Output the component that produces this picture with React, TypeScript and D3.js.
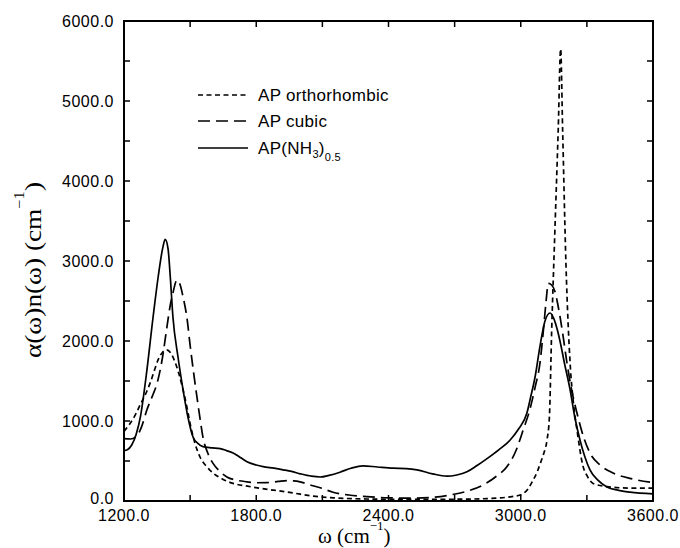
import React from 'react';
import * as d3 from 'd3';

// ---- axis ticks ----
const xMajorTicks = [1200, 1800, 2400, 3000, 3600];
const xMinorTicks = [1500, 2100, 2700, 3300];
const yMajorTicks = [0, 1000, 2000, 3000, 4000, 5000, 6000];
const yMinorTicks = [500, 1500, 2500, 3500, 4500, 5500];

// ---- series: AP orthorhombic (short dashes) ----
const wOrtho = [1200, 1250, 1273, 1300, 1318, 1340, 1354, 1375, 1394, 1412, 1431, 1450, 1468, 1485, 1499, 1520, 1545, 1575, 1604, 1650, 1695, 1760, 1817, 1880, 1940, 2000, 2060, 2150, 2300, 2500, 2700, 2850, 2906, 2960, 2997, 3030, 3056, 3074, 3090, 3105, 3119, 3130, 3140, 3155, 3170, 3181, 3190, 3205, 3224, 3240, 3255, 3283, 3300, 3328, 3390, 3450, 3520, 3600];
const aOrtho = [870, 1070, 1200, 1350, 1470, 1650, 1760, 1860, 1890, 1850, 1740, 1580, 1390, 1180, 980, 740, 550, 430, 350, 270, 220, 185, 160, 135, 112, 85, 60, 40, 25, 20, 22, 30, 38, 55, 75, 140, 260, 360, 480, 600, 760, 1050, 2100, 3390, 4640, 5650, 4640, 2970, 1720, 1200, 890, 430, 320, 220, 180, 165, 160, 160];

// ---- series: AP cubic (long dashes) ----
const wCubic = [1200, 1230, 1260, 1280, 1304, 1330, 1350, 1375, 1395, 1410, 1422, 1440, 1455, 1468, 1485, 1499, 1515, 1531, 1545, 1558, 1580, 1604, 1635, 1667, 1710, 1758, 1800, 1849, 1900, 1940, 1970, 1999, 2040, 2090, 2148, 2220, 2302, 2400, 2529, 2600, 2679, 2760, 2829, 2890, 2938, 2980, 3010, 3042, 3065, 3087, 3105, 3115, 3125, 3140, 3155, 3165, 3190, 3210, 3230, 3255, 3285, 3314, 3360, 3419, 3500, 3600];
const aCubic = [780, 775, 820, 930, 1140, 1320, 1470, 1800, 2180, 2450, 2600, 2760, 2700, 2550, 2300, 1970, 1620, 1300, 1030, 800, 600, 470, 370, 300, 260, 240, 228, 230, 245, 255, 252, 240, 205, 165, 110, 75, 55, 40, 35, 45, 75, 125, 200, 310, 430, 640, 880, 1150, 1420, 1720, 2200, 2500, 2720, 2700, 2620, 2500, 2100, 1720, 1400, 1100, 800, 600, 450, 350, 280, 230];

// ---- series: AP(NH3)0.5 (solid) ----
const wAmm = [1200, 1215, 1235, 1255, 1275, 1300, 1332, 1355, 1377, 1387, 1400, 1410, 1422, 1445, 1468, 1490, 1513, 1535, 1558, 1600, 1636, 1665, 1695, 1730, 1758, 1800, 1831, 1880, 1922, 1960, 2000, 2050, 2090, 2130, 2180, 2230, 2284, 2350, 2421, 2480, 2529, 2600, 2665, 2710, 2756, 2800, 2847, 2900, 2951, 2990, 3028, 3045, 3065, 3087, 3110, 3133, 3150, 3165, 3178, 3200, 3224, 3245, 3269, 3290, 3314, 3350, 3391, 3440, 3496, 3600];
const aAmm = [630, 640, 700, 830, 1060, 1550, 2300, 2800, 3180, 3270, 3150, 2800, 2300, 1800, 1390, 1050, 800, 720, 680, 665, 655, 630, 600, 540, 490, 450, 430, 410, 390, 370, 340, 310, 300, 320, 360, 410, 440, 425, 410, 405, 390, 340, 310, 325, 365, 440, 530, 640, 760, 900, 1100, 1300, 1550, 1930, 2250, 2350, 2280, 2150, 2000, 1700, 1390, 1050, 760, 560, 390, 260, 175, 135, 110, 90];

const seriesLabels = ['AP orthorhombic', 'AP cubic'];

const W = 680;
const H = 548;
const L = 124, R = 653, T = 21, B = 501;

export default function App() {
  const x = d3.scaleLinear().domain([1200, 3600]).range([L, R]);
  const y = d3.scaleLinear().domain([0, 6000]).range([B, T]);
  const line = d3
    .line<[number, number]>()
    .x((d) => x(d[0]))
    .y((d) => y(d[1]))
    .curve(d3.curveMonotoneX);
  const zip = (a: number[], b: number[]) => a.map((v, i) => [v, b[i]] as [number, number]);
  const fmt = d3.format('.1f');
  const tl = 6;
  const tickFont = { fontFamily: '"Liberation Sans", Arial, sans-serif', fontSize: 16, letterSpacing: 0.5 };
  const legFont = { fontFamily: '"Liberation Sans", Arial, sans-serif', fontSize: 17, letterSpacing: 0.3 };
  const series = [
    { d: line(zip(wOrtho, aOrtho)) || '', dash: '5,3.5' },
    { d: line(zip(wCubic, aCubic)) || '', dash: '12,6' },
    { d: line(zip(wAmm, aAmm)) || '', dash: 'none' },
  ];
  const legendY = [95, 121, 148];
  return (
    <svg width={W} height={H} style={{ position: 'absolute', left: 0, top: 0, background: '#fff' }}>
      <rect x={0} y={0} width={W} height={H} fill="#fff" />
      {/* curves */}
      {series.map((s, i) => (
        <path key={i} d={s.d} fill="none" stroke="#000" strokeWidth={1.7} strokeDasharray={s.dash} />
      ))}
      {/* frame */}
      <rect x={L} y={T} width={R - L} height={B - T} fill="none" stroke="#000" strokeWidth={2} />
      {/* ticks */}
      {[...xMajorTicks, ...xMinorTicks].map((t) => (
        <g key={'x' + t}>
          <line x1={x(t)} x2={x(t)} y1={B} y2={B - tl} stroke="#000" strokeWidth={1.5} />
          <line x1={x(t)} x2={x(t)} y1={T} y2={T + tl} stroke="#000" strokeWidth={1.5} />
        </g>
      ))}
      {[...yMajorTicks, ...yMinorTicks].map((t) => (
        <g key={'y' + t}>
          <line x1={L} x2={L + tl} y1={y(t)} y2={y(t)} stroke="#000" strokeWidth={1.5} />
          <line x1={R} x2={R - tl} y1={y(t)} y2={y(t)} stroke="#000" strokeWidth={1.5} />
        </g>
      ))}
      {xMajorTicks.map((t) => (
        <text key={'xl' + t} x={x(t)} y={521} textAnchor="middle" style={tickFont}>
          {fmt(t)}
        </text>
      ))}
      {yMajorTicks.map((t) => (
        <text key={'yl' + t} x={114} y={y(t) + (t === 0 ? 3 : 6)} textAnchor="end" style={tickFont}>
          {fmt(t)}
        </text>
      ))}
      {/* x title */}
      <text x={318} y={543} style={{ fontFamily: '"Liberation Serif", "Times New Roman", serif', fontSize: 21 }}>
        ω (cm
        <tspan dy={-13} fontSize={13}>−1</tspan>
        <tspan dy={13}>)</tspan>
      </text>
      {/* y title */}
      <text
        transform="translate(41,270) rotate(-90)"
        textAnchor="middle"
        textLength={176}
        lengthAdjust="spacingAndGlyphs"
        style={{ fontFamily: '"Liberation Serif", "Times New Roman", serif', fontSize: 23 }}
      >
        α(ω)n(ω) (cm
        <tspan dy={-17} fontSize={14}>−1</tspan>
        <tspan dy={17}>)</tspan>
      </text>
      {/* legend */}
      {series.map((s, i) => (
        <line key={'lg' + i} x1={198} x2={248} y1={legendY[i]} y2={legendY[i]} stroke="#000" strokeWidth={1.7} strokeDasharray={s.dash} />
      ))}
      {seriesLabels.map((lab, i) => (
        <text key={'lt' + i} x={258} y={legendY[i] + 6} style={legFont}>
          {lab}
        </text>
      ))}
      <text x={258} y={legendY[2] + 6} style={legFont}>
        AP(NH
        <tspan dy={4} fontSize={11}>3</tspan>
        <tspan dy={-4}>)</tspan>
        <tspan dy={7} fontSize={11}>0.5</tspan>
      </text>
    </svg>
  );
}
